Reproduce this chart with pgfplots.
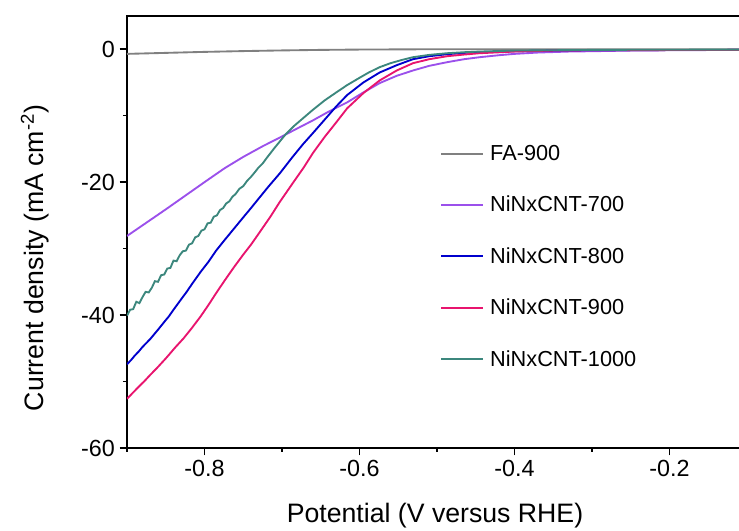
\documentclass[border=0pt]{standalone}
\usepackage{pgfplots}
\pgfplotsset{compat=1.18}
\usepackage{fontspec}
\setmainfont{Liberation Sans}
\definecolor{cgray}{RGB}{128,128,128}
\definecolor{cpurple}{RGB}{155,80,235}
\definecolor{cblue}{RGB}{0,0,205}
\definecolor{cpink}{RGB}{232,20,110}
\definecolor{cteal}{RGB}{60,135,125}
\begin{document}
\begin{tikzpicture}
\begin{axis}[
  scale only axis, width=462pt, height=324pt,
  xmin=-0.9, xmax=-0.1052, ymin=-60, ymax=5,
  axis line style={line width=1.4pt},
  xtick pos=left, ytick pos=left,
  tick align=outside,
  major tick length=5.5pt, minor tick length=3pt,
  every tick/.style={black, line width=1.2pt},
  xtick={-0.8,-0.6,-0.4,-0.2}, xticklabels={-0.8,-0.6,-0.4,-0.2},
  minor xtick={-0.9,-0.7,-0.5,-0.3},
  ytick={-60,-40,-20,0}, yticklabels={-60,-40,-20,0},
  minor ytick={-50,-30,-10},
  ticklabel style={font=\fontsize{17.5}{20}\selectfont},
  xlabel={Potential (V versus RHE)},
  ylabel={Current density (mA cm\textsuperscript{-2})},
  label style={font=\fontsize{20}{24}\selectfont},
  xlabel style={at={(axis description cs:0.5,-0.157)}, anchor=center},
  ylabel style={at={(axis description cs:-0.149,0.44)}, anchor=center},
  legend image code/.code={\draw[#1, line width=1.5pt] (0pt,0pt) -- (31pt,0pt);},
  legend cell align=left,
  legend style={draw=none, fill=none, at={(axis description cs:0.508,0.708)}, anchor=north west,
    font=\fontsize{16.3}{19}\selectfont, row sep=21.3pt, column sep=3pt, inner sep=0pt},
  every axis plot/.append style={line width=1.4pt},
]
\addplot[cgray] coordinates {
(-0.900,-0.7) (-0.850,-0.55) (-0.800,-0.4) (-0.750,-0.28) (-0.700,-0.18)
(-0.650,-0.1) (-0.600,-0.05) (-0.500,0) (-0.100,0)};
\addlegendentry{FA-900}
\addplot[cpurple] coordinates {
(-0.900,-28.1) (-0.850,-24.1) (-0.800,-20.0) (-0.774,-17.9) (-0.750,-16.2)
(-0.725,-14.6) (-0.703,-13.3) (-0.680,-11.9) (-0.660,-10.7) (-0.640,-9.4)
(-0.616,-8.0) (-0.595,-6.5) (-0.574,-5.1) (-0.552,-4.0) (-0.531,-3.2)
(-0.510,-2.5) (-0.487,-1.95) (-0.465,-1.5) (-0.445,-1.2) (-0.420,-0.9)
(-0.400,-0.7) (-0.370,-0.5) (-0.330,-0.35) (-0.300,-0.3) (-0.250,-0.2)
(-0.200,-0.15) (-0.100,-0.1)};
\addlegendentry{NiNxCNT-700}
\addplot[cblue] coordinates {
(-0.900,-47.4) (-0.895,-46.8) (-0.890,-46.1) (-0.885,-45.5) (-0.880,-44.8)
(-0.870,-43.6) (-0.860,-42.2) (-0.851,-40.9) (-0.846,-40.2) (-0.840,-39.2)
(-0.830,-37.6) (-0.823,-36.5) (-0.816,-35.3) (-0.805,-33.5) (-0.795,-32.0)
(-0.785,-30.3) (-0.774,-28.7) (-0.762,-27.0) (-0.750,-25.3) (-0.740,-23.9)
(-0.731,-22.6) (-0.717,-20.6) (-0.703,-18.7) (-0.687,-16.3) (-0.673,-14.3)
(-0.660,-12.6) (-0.645,-10.6) (-0.630,-8.6) (-0.616,-6.9) (-0.595,-5.0)
(-0.574,-3.5) (-0.552,-2.4) (-0.531,-1.5) (-0.510,-1.05) (-0.487,-0.75)
(-0.465,-0.55) (-0.445,-0.45) (-0.400,-0.3) (-0.350,-0.2) (-0.300,-0.15)
(-0.100,-0.1)};
\addlegendentry{NiNxCNT-800}
\addplot[cpink] coordinates {
(-0.900,-52.6) (-0.895,-52.0) (-0.890,-51.4) (-0.885,-50.8) (-0.878,-50.0)
(-0.870,-49.0) (-0.860,-47.8) (-0.849,-46.4) (-0.838,-44.9) (-0.827,-43.5)
(-0.816,-41.9) (-0.805,-40.2) (-0.795,-38.5) (-0.785,-36.7) (-0.774,-34.8)
(-0.762,-32.8) (-0.750,-30.9) (-0.740,-29.4) (-0.731,-27.9) (-0.715,-25.2)
(-0.703,-23.0) (-0.687,-20.3) (-0.672,-17.8) (-0.660,-15.6) (-0.645,-13.2)
(-0.630,-11.0) (-0.616,-8.9) (-0.595,-6.6) (-0.574,-4.7) (-0.552,-3.2)
(-0.531,-2.1) (-0.510,-1.5) (-0.487,-1.05) (-0.465,-0.8) (-0.445,-0.6)
(-0.400,-0.35) (-0.350,-0.2) (-0.300,-0.15) (-0.100,-0.1)};
\addlegendentry{NiNxCNT-900}
\addplot[cteal] coordinates {
(-0.900,-40.1) (-0.896,-39.2) (-0.892,-39.1) (-0.888,-38.0) (-0.884,-38.2)
(-0.880,-37.3) (-0.876,-36.5) (-0.872,-36.6) (-0.868,-35.9) (-0.864,-34.9)
(-0.860,-35.0) (-0.856,-34.0) (-0.852,-33.9) (-0.848,-33.0) (-0.844,-32.9)
(-0.840,-31.8) (-0.836,-31.9) (-0.832,-31.0) (-0.828,-30.4) (-0.824,-30.3)
(-0.820,-29.4) (-0.816,-29.2) (-0.812,-28.3) (-0.808,-28.1) (-0.804,-27.3)
(-0.800,-27.1) (-0.796,-26.2) (-0.792,-26.1) (-0.788,-25.2) (-0.784,-25.0)
(-0.780,-24.2) (-0.776,-23.9) (-0.772,-23.2) (-0.768,-22.9) (-0.764,-22.2)
(-0.760,-21.8) (-0.755,-21.0) (-0.750,-20.6) (-0.745,-19.8) (-0.740,-19.2)
(-0.735,-18.5) (-0.731,-17.9) (-0.725,-17.2) (-0.720,-16.4) (-0.710,-14.9)
(-0.696,-12.9) (-0.685,-11.6) (-0.672,-10.3) (-0.660,-9.1) (-0.645,-7.7)
(-0.630,-6.5) (-0.616,-5.4) (-0.600,-4.3) (-0.588,-3.5) (-0.574,-2.7)
(-0.560,-2.1) (-0.545,-1.6) (-0.531,-1.2) (-0.510,-0.85) (-0.487,-0.6)
(-0.465,-0.45) (-0.445,-0.35) (-0.400,-0.2) (-0.300,-0.1) (-0.100,-0.05)};
\addlegendentry{NiNxCNT-1000}
\end{axis}
\pgfresetboundingbox
\path[use as bounding box] (-95.25pt,-62.25pt) rectangle (459pt,336pt);
\end{tikzpicture}
\end{document}
